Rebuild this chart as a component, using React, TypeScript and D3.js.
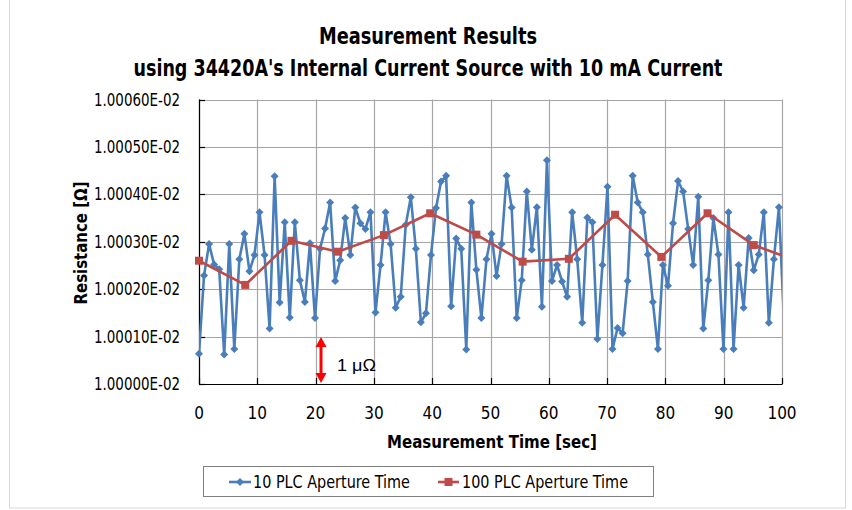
import React from "react";
import * as d3 from "d3";

// ---- data (values are offsets above 1.00000E-02 Ω, in μΩ) ----
const BLUE_STEP = 0.865; // sec between 10 PLC readings
const RED_STEP = 7.93; // sec between 100 PLC readings
const blueValues = [
  0.64, 2.29, 2.95, 2.52, 2.42, 0.62, 2.95, 0.74, 2.63, 3.17,
  2.38, 2.72, 3.62, 2.72, 1.17, 4.38, 1.72, 3.41, 1.4, 3.41,
  2.19, 1.73, 2.97, 1.39, 2.85, 3.28, 3.83, 2.17, 2.61, 3.5,
  2.72, 3.72, 3.39, 3.27, 3.62, 1.51, 2.51, 3.62, 2.95, 1.61,
  1.84, 3.36, 3.94, 2.85, 1.3, 1.49, 2.72, 3.71, 4.27, 4.39,
  1.64, 3.07, 2.85, 0.73, 3.83, 2.41, 1.39, 2.63, 3.17, 2.28,
  2.95, 4.39, 3.72, 1.39, 2.19, 4.06, 2.83, 3.73, 1.63, 4.72,
  2.17, 2.51, 2.16, 1.84, 3.62, 2.63, 1.29, 3.51, 3.41, 0.95,
  2.51, 4.16, 0.74, 1.18, 1.07, 2.17, 4.39, 3.83, 3.62, 2.73,
  1.73, 0.74, 2.51, 2.07, 3.39, 4.28, 4.06, 3.27, 2.51, 3.95,
  1.17, 2.19, 3.5, 2.73, 0.74, 3.62, 0.74, 2.51, 1.61, 3.08,
  2.4, 2.73, 3.62, 1.29, 2.63, 3.73, 1.3,
];
const redValues = [2.6, 2.09, 3.02, 2.79, 3.14, 3.6, 3.15, 2.58, 2.64, 3.57, 2.68, 3.6, 2.93, 2.57];
const xTicks = [0, 10, 20, 30, 40, 50, 60, 70, 80, 90, 100];
const yTicks = [0, 1, 2, 3, 4, 5, 6];
const yTickLabels = [
  "1.00000E-02", "1.00010E-02", "1.00020E-02", "1.00030E-02",
  "1.00040E-02", "1.00050E-02", "1.00060E-02",
];
const seriesNames = ["10 PLC Aperture Time", "100 PLC Aperture Time"];
const titleLines = ["Measurement Results", "using 34420A's Internal Current Source with 10 mA Current"];

const NARROW = "'Liberation Sans Narrow', 'DejaVu Sans Condensed', 'Arial Narrow', sans-serif";
const REG = "'Liberation Sans', Arial, sans-serif";
const BLUE = "#4a7ebb";
const RED = "#be4b48";

export default function App() {
  const W = 852, H = 510;
  const L = 199, R = 782, T = 99.5, B = 384;
  const x = d3.scaleLinear().domain([0, 100]).range([L, R]);
  const y = d3.scaleLinear().domain([0, 6]).range([B, T]);

  const blue = blueValues.map((v, i) => ({ t: i * BLUE_STEP, v }));
  const red = redValues.map((v, i) => ({ t: i * RED_STEP, v }));
  const line = d3.line<{ t: number; v: number }>().x((d) => x(d.t)).y((d) => y(d.v));

  const diamond = (cx: number, cy: number, r = 4) =>
    `M${cx},${cy - r}L${cx + r},${cy}L${cx},${cy + r}L${cx - r},${cy}Z`;

  return (
    <svg width={W} height={H} style={{ position: "absolute", left: 0, top: 0 }}>
      <rect x={0} y={0} width={W} height={H} fill="#fff" />
      <rect x={9.5} y={-1} width={836} height={509} fill="none" stroke="#d9d9d9" />
      <defs>
        <clipPath id="plotclip">
          <rect x={L} y={T - 2} width={R - L} height={B - T + 4} />
        </clipPath>
      </defs>

      {/* titles */}
      <text x={428} y={44} textAnchor="middle" fontFamily={NARROW} fontWeight="bold" fontSize={23}
        textLength={218} lengthAdjust="spacingAndGlyphs">{titleLines[0]}</text>
      <text x={428} y={76} textAnchor="middle" fontFamily={NARROW} fontWeight="bold" fontSize={23}
        textLength={589} lengthAdjust="spacingAndGlyphs">{titleLines[1]}</text>

      {/* gridlines */}
      {yTicks.map((t) => (
        <line key={"gy" + t} x1={L} x2={R} y1={Math.round(y(t)) + 0.5} y2={Math.round(y(t)) + 0.5}
          stroke="#a6a6a6" strokeWidth={1.2} />
      ))}
      {xTicks.map((t) => (
        <line key={"gx" + t} x1={Math.round(x(t)) + 0.5} x2={Math.round(x(t)) + 0.5} y1={T} y2={B}
          stroke="#a6a6a6" strokeWidth={1.2} />
      ))}
      {/* axes */}
      <line x1={L + 0.5} x2={L + 0.5} y1={T} y2={B + 0.5} stroke="#000" strokeWidth={1.2} />
      <line x1={L} x2={R + 0.5} y1={B + 0.5} y2={B + 0.5} stroke="#000" strokeWidth={1.2} />
      {yTicks.map((t) => (
        <line key={"ty" + t} x1={L} x2={L + 6} y1={Math.round(y(t)) + 0.5} y2={Math.round(y(t)) + 0.5}
          stroke="#000" strokeWidth={1.2} />
      ))}
      {xTicks.map((t) => (
        <line key={"tx" + t} x1={Math.round(x(t)) + 0.5} x2={Math.round(x(t)) + 0.5} y1={B - 6} y2={B}
          stroke="#000" strokeWidth={1.2} />
      ))}

      {/* tick labels */}
      {yTicks.map((t, i) => (
        <text key={"ly" + t} x={180} y={y(t) + 6} textAnchor="end" fontFamily={NARROW} fontSize={17}
          textLength={86} lengthAdjust="spacingAndGlyphs">{yTickLabels[i]}</text>
      ))}
      {xTicks.map((t) => (
        <text key={"lx" + t} x={x(t)} y={419} textAnchor="middle" fontFamily={NARROW} fontSize={17}>{t}</text>
      ))}

      {/* axis titles */}
      <text x={492} y={448} textAnchor="middle" fontFamily={NARROW} fontWeight="bold" fontSize={18}
        textLength={210} lengthAdjust="spacingAndGlyphs">Measurement Time [sec]</text>
      <text transform="translate(87,243) rotate(-90)" textAnchor="middle" fontFamily={NARROW}
        fontWeight="bold" fontSize={18} textLength={123} lengthAdjust="spacingAndGlyphs">Resistance [Ω]</text>

      {/* series */}
      <g clipPath="url(#plotclip)">
        <path d={line(blue) || ""} fill="none" stroke={BLUE} strokeWidth={2.6} strokeLinejoin="round" />
      </g>
      {blue.filter((d) => d.t <= 100).map((d, i) => (
        <path key={"b" + i} d={diamond(x(d.t), y(d.v))} fill={BLUE} />
      ))}
      <g clipPath="url(#plotclip)">
        <path d={line(red) || ""} fill="none" stroke={RED} strokeWidth={2.6} strokeLinejoin="round" />
      </g>
      {red.filter((d) => d.t <= 100).map((d, i) => (
        <rect key={"r" + i} x={x(d.t) - 4} y={y(d.v) - 4} width={8} height={8} fill={RED} />
      ))}

      {/* 1 μΩ annotation */}
      <line x1={321} x2={321} y1={345} y2={376} stroke="#ff0000" strokeWidth={3} />
      <polygon points="321,337 315.5,347 326.5,347" fill="#ff0000" />
      <polygon points="321,383 315.5,373 326.5,373" fill="#ff0000" />
      <text x={337} y={371} fontFamily={REG} fontSize={17} textLength={39} lengthAdjust="spacingAndGlyphs">1 μΩ</text>

      {/* legend */}
      <rect x={203.5} y={466.5} width={450} height={30} fill="#fff" stroke="#808080" strokeWidth={1} />
      <line x1={229} x2={251} y1={482} y2={482} stroke={BLUE} strokeWidth={2.6} />
      <path d={diamond(240, 482)} fill={BLUE} />
      <text x={253} y={488} fontFamily={NARROW} fontSize={17} textLength={157} lengthAdjust="spacingAndGlyphs">{seriesNames[0]}</text>
      <line x1={438} x2={459} y1={482} y2={482} stroke={RED} strokeWidth={2.6} />
      <rect x={444.5} y={478} width={8} height={8} fill={RED} />
      <text x={462} y={488} fontFamily={NARROW} fontSize={17} textLength={166} lengthAdjust="spacingAndGlyphs">{seriesNames[1]}</text>
    </svg>
  );
}
